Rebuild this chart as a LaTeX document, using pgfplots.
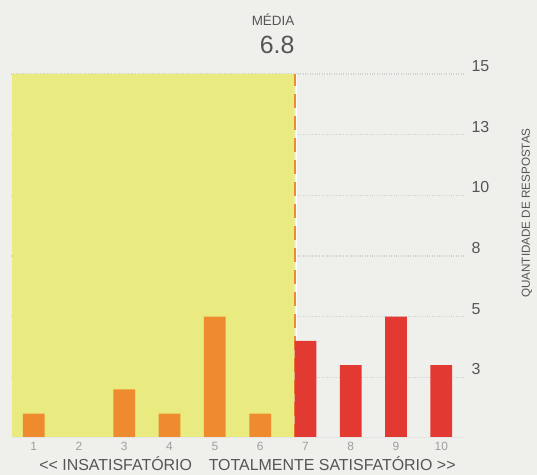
\documentclass[border=0pt]{standalone}
\usepackage{pgfplots}
\pgfplotsset{compat=1.18}
\usepackage{fontspec}
\setmainfont{Liberation Sans}
\definecolor{bgc}{HTML}{EFEFEC}
\definecolor{yel}{HTML}{E9EB80}
\definecolor{org}{HTML}{EE8B2F}
\definecolor{rd}{HTML}{E23A33}
\definecolor{txt}{HTML}{555555}
\definecolor{grd}{HTML}{D0D0CE}
\begin{document}
\begin{tikzpicture}
\useasboundingbox (0,0) rectangle (537bp,475bp);
\fill[bgc] (0,0) rectangle (537bp,475bp);
\begin{axis}[
  at={(11bp,37bp)}, anchor=south west,
  scale only axis, width=453bp, height=364bp,
  xmin=0.5, xmax=10.5, ymin=0, ymax=15,
  clip=false,
  axis line style={draw=none},
  tick style={draw=none},
  xtick={1,...,10},
  xticklabel style={font=\fontsize{12}{12}\selectfont, text=gray!75, yshift=-0.5bp},
  ytick={2.5,5,7.5,10,12.5,15},
  yticklabels={3,5,8,10,13,15},
  yticklabel pos=right,
  yticklabel style={font=\fontsize{16}{16}\selectfont, text=txt, yshift=8bp, xshift=4bp},
  ymajorgrids,
  grid style={grd, dotted, line width=1.2bp},
  /pgf/number format/assume math mode=true,
]
\addplot[fill=yel, draw=none] coordinates {(0.525,0) (0.525,15) (6.76,15) (6.76,0)} \closedcycle;
\addplot[draw=white, line width=1.5bp] coordinates {(6.80,0) (6.80,15)};
\addplot[draw=org, line width=2.4bp, dash pattern=on 14bp off 8bp] coordinates {(6.77,0) (6.77,15)};
\addplot[ybar, bar width=0.48, bar shift=0pt, fill=org, draw=none] coordinates {(1,1) (2,0) (3,2) (4,1) (5,5) (6,1)};
\addplot[ybar, bar width=0.48, bar shift=0pt, fill=rd, draw=none] coordinates {(7,4) (8,3) (9,5) (10,3)};
\addplot[draw=gray!20, line width=1bp] coordinates {(0.525,0) (10.5,0)};
\node[anchor=base east, text=txt, inner sep=0pt, font=\fontsize{13.5}{13.5}\selectfont] at (axis cs:6.76,16.98) {MÉDIA};
\node[anchor=base east, text=txt, inner sep=0pt, font=\fontsize{25}{25}\selectfont] at (axis cs:6.76,15.86) {6.8};
\node[anchor=base, text=txt, inner sep=0pt, font=\fontsize{16}{16}\selectfont] at (axis cs:5.72,-1.32) {<{}< INSATISFATÓRIO\hspace{1.05em}TOTALMENTE SATISFATÓRIO >{}>};
\node[rotate=90, text=txt, inner sep=0pt, font=\fontsize{11.7}{11.7}\selectfont] at (axis cs:11.89,9.27) {QUANTIDADE DE RESPOSTAS};
\end{axis}
\end{tikzpicture}
\end{document}
